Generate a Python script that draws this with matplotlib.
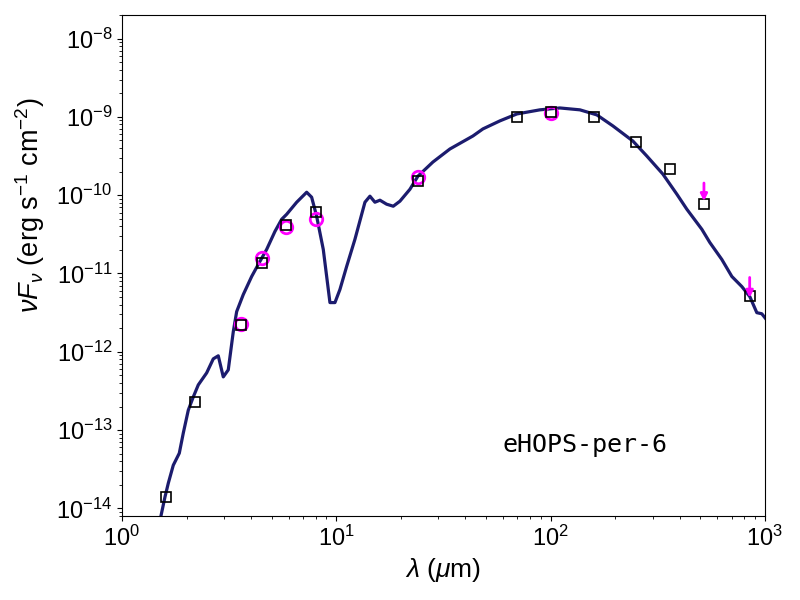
import matplotlib
matplotlib.use("Agg")
import matplotlib.pyplot as plt

plt.rcParams['font.family'] = ['Liberation Sans', 'DejaVu Sans']
plt.rcParams['mathtext.fontset'] = 'custom'
plt.rcParams['mathtext.rm'] = 'Liberation Sans'
plt.rcParams['mathtext.it'] = 'Liberation Sans:italic'
plt.rcParams['mathtext.bf'] = 'Liberation Sans:bold'

# Model SED curve
model_wav = [1.504, 1.587, 1.644, 1.735, 1.851, 1.932, 2.039, 2.151, 2.270, 2.484,
             2.667, 2.814, 2.969, 3.133, 3.306, 3.429, 3.681, 4.029, 4.405, 4.733,
             5.175, 5.561, 5.867, 6.535, 7.275, 7.675, 8.098, 8.697, 9.343, 9.858,
             10.40, 11.18, 12.22, 13.61, 14.36, 15.15, 15.99, 17.18, 18.45, 19.82,
             22.07, 24.05, 28.25, 33.91, 43.42, 48.35, 58.03, 69.66, 89.2, 110.6,
             137.1, 164.5, 195.4, 242.2, 281.5, 334.4, 388.6, 432.6, 508.3, 553.8,
             630.2, 701.8, 781.1, 851.1, 917.8, 968.3, 1015.0]
model_flux = [7.0e-15, 1.40e-14, 2.09e-14, 3.56e-14, 5.07e-14, 9.16e-14, 1.80e-13, 2.65e-13, 3.78e-13, 5.38e-13,
              8.13e-13, 8.89e-13, 4.78e-13, 5.88e-13, 1.80e-12, 3.26e-12, 5.38e-12, 9.16e-12, 1.43e-11, 2.03e-11,
              3.45e-11, 4.92e-11, 5.70e-11, 8.13e-11, 1.09e-10, 9.42e-11, 5.38e-11, 2.03e-11, 4.25e-12, 4.25e-12,
              6.24e-12, 1.23e-11, 2.73e-11, 8.13e-11, 9.71e-11, 8.13e-11, 8.63e-11, 7.67e-11, 7.23e-11, 8.38e-11,
              1.19e-10, 1.75e-10, 2.65e-10, 3.89e-10, 5.70e-10, 7.02e-10, 8.89e-10, 1.09e-9, 1.23e-9, 1.30e-9,
              1.23e-9, 1.06e-9, 7.67e-10, 4.92e-10, 3.16e-10, 1.86e-10, 1.03e-10, 6.62e-11, 3.67e-11, 2.49e-11,
              1.51e-11, 9.16e-12, 6.81e-12, 5.07e-12, 3.16e-12, 3.06e-12, 2.6e-12]

# Photometry (black squares)
phot_wav = [1.6, 2.2, 3.6, 4.5, 5.8, 8.0, 24, 70, 100, 160, 250, 360, 520, 850]
phot_flux = [1.40e-14, 2.26e-13, 2.22e-12, 1.37e-11, 4.12e-11, 6.11e-11, 1.52e-10,
             9.9e-10, 1.15e-9, 9.9e-10, 4.74e-10, 2.15e-10, 7.67e-11, 5.22e-12]

# Other photometry (magenta circles)
circ_wav = [3.6, 4.5, 5.8, 8.0, 24, 100]
circ_flux = [2.25e-12, 1.56e-11, 3.93e-11, 4.92e-11, 1.69e-10, 1.13e-9]

# Upper limits (magenta arrows): arrow top and arrow tip
ul_wav = [520, 850]
ul_top = [1.43e-10, 8.9e-12]
ul_tip = [8.4e-11, 4.9e-12]

fig = plt.figure(figsize=(8, 6), dpi=100)
ax = fig.add_axes([0.1525, 0.14, 0.8035, 0.835])

ax.plot(model_wav, model_flux, color='#1c1c6e', lw=2.3, zorder=2)
ax.plot(circ_wav, circ_flux, 'o', ms=9, mfc='none', mec='magenta', mew=2, zorder=3)
ax.plot(phot_wav, phot_flux, 's', ms=6.5, mfc='none', mec='black', mew=1.2, zorder=4)
for xw, yt, yb in zip(ul_wav, ul_top, ul_tip):
    ax.annotate('', xy=(xw, yb), xytext=(xw, yt),
                arrowprops=dict(arrowstyle='-|>', color='magenta', lw=2,
                                mutation_scale=10, shrinkA=0, shrinkB=0), zorder=5)

ax.set_xscale('log')
ax.set_yscale('log')
ax.set_xlim(1, 1000)
ax.set_ylim(8e-15, 2e-8)
ax.tick_params(axis='both', which='major', labelsize=17)
ax.set_xlabel(r'$\lambda$ ($\mu$m)', fontsize=19)
ax.set_ylabel(r'$\nu F_\nu$ (erg s$^{-1}$ cm$^{-2}$)', fontsize=19.5)
ax.yaxis.set_label_coords(-0.117, 0.62)
ax.text(0.592, 0.142, 'eHOPS-per-6', transform=ax.transAxes, fontsize=18,
        family='DejaVu Sans Mono', va='center', ha='left')

fig.savefig('out.png', dpi=100)
